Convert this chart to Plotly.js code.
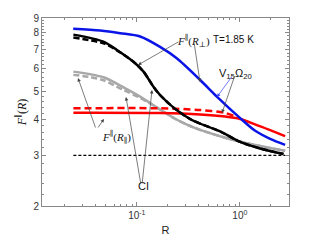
<!DOCTYPE html>
<html><head><meta charset="utf-8">
<script src="https://cdn.plot.ly/plotly-3.0.1.min.js"></script>
<style>html,body{margin:0;padding:0;background:#fff}#c{width:320px;height:240px}</style>
</head><body><div id="c"></div>
<script>
// Blue: F||(R_perp) V15Omega20
const blueR = [0.0241,0.0441,0.0689,0.1077,0.168,0.244,0.412,0.598,1.007,1.41,1.97,2.75];
const blueF = [8.26,8.14,7.97,7.76,7.14,6.52,5.48,4.80,4.04,3.65,3.42,3.26];
// Black solid: F||(R_perp) CI
const blackR = [0.0242,0.0474,0.064,0.0927,0.116,0.145,0.168,0.235,0.342,0.644,1.007,1.57,2.65];
const blackF = [7.88,7.45,6.97,6.34,5.86,5.19,4.86,4.35,3.98,3.63,3.34,3.17,3.03];
// Black dashed
const blackDR = [0.0242,0.0474,0.064,0.0927,0.116,0.145,0.168,0.235,0.342,0.644,1.007,1.57,2.65];
const blackDF = [7.70,7.35,6.95,6.34,5.86,5.19,4.86,4.35,3.98,3.63,3.34,3.17,3.03];
// Gray solid: F||(R_par) CI
const grayR = [0.0242,0.0474,0.0741,0.1077,0.168,0.235,0.355,0.748,1.57,2.75];
const grayF = [5.86,5.60,5.17,4.80,4.33,4.02,3.75,3.44,3.23,3.11];
// Gray dashed
const grayDR = [0.0242,0.0352,0.0474,0.0741,0.1077,0.168,0.235,0.355,0.748,1.57,2.75];
const grayDF = [5.71,5.61,5.47,5.06,4.75,4.33,4.02,3.75,3.44,3.23,3.11];
// Red solid: F||(R_par) V15Omega20
const redR = [0.0242,0.168,0.412,0.72,1.007,1.46,1.97,2.75];
const redF = [4.22,4.21,4.16,4.09,4.01,3.82,3.67,3.50];
// Red dashed
const redDR = [0.0242,0.168,0.412,0.72,1.007];
const redDF = [4.37,4.37,4.31,4.21,4.04];
// Horizontal reference
const refR = [0.0242,2.75];
const refF = [3,3];

const xMinor = [0.02,0.03,0.04,0.05,0.06,0.07,0.08,0.09,0.2,0.3,0.4,0.5,0.6,0.7,0.8,0.9,2];
const yMinor = [];
for (let v = 2.2; v < 9; v += 0.2) { if (Math.abs(v - Math.round(v)) > 0.01) yMinor.push(+v.toFixed(1)); }
const yTicks = [2,3,4,5,6,7,8,9];
const xTicks = [0.1,1];
const xTickText = ['10<sup>-1</sup>','10<sup>0</sup>'];

const sp = {shape:'spline',smoothing:0.8};
const traces = [
  {x:refR,y:refF,mode:'lines',line:{color:'#000',width:1.3,dash:'3px,2px'}},
  {x:grayR,y:grayF,mode:'lines',line:Object.assign({color:'#a8a8a8',width:2.5},sp)},
  {x:grayDR,y:grayDF,mode:'lines',line:Object.assign({color:'#a8a8a8',width:2.5,dash:'6px,3px'},sp)},
  {x:redR,y:redF,mode:'lines',line:Object.assign({color:'#ff0000',width:2.5},sp)},
  {x:redDR,y:redDF,mode:'lines',line:Object.assign({color:'#ff0000',width:2.5,dash:'7px,4px'},sp)},
  {x:blackR,y:blackF,mode:'lines',line:Object.assign({color:'#000',width:2.5},sp)},
  {x:blackDR,y:blackDF,mode:'lines',line:Object.assign({color:'#000',width:2.5,dash:'6px,3px'},sp)},
  {x:blueR,y:blueF,mode:'lines',line:Object.assign({color:'#0a14e6',width:2.5},sp)}
];

const L=42,T=18,W=247,H=188;
function px(x){return (x-L)/W;}
function py(y){return (206-y)/H;}
function arrow(tx,ty,hx,hy,col){
  return {xref:'paper',yref:'paper',x:px(hx),y:py(hy),ax:tx-hx,ay:ty-hy,text:'',showarrow:true,
    arrowhead:2,arrowsize:1,arrowwidth:0.7,arrowcolor:col||'#444',standoff:0,startstandoff:0};
}
const serif = {family:'Liberation Serif, DejaVu Serif, serif',size:11,color:'#111'};
const sans = {family:'Liberation Sans, Arial, sans-serif',size:10,color:'#111'};
const annotations = [
  {xref:'paper',yref:'paper',x:px(193),y:py(31),text:'<i>F</i><sup>∥</sup>(<i>R</i><sub>⊥</sub>)',showarrow:false,font:serif},
  {xref:'paper',yref:'paper',x:px(256),y:py(32),text:'T=1.85 K',showarrow:false,font:sans},
  {xref:'paper',yref:'paper',x:px(254),y:py(65),text:'V<sub>15</sub>Ω<sub>20</sub>',showarrow:false,font:{family:'Liberation Sans, Arial, sans-serif',size:11,color:'#111'}},
  {xref:'paper',yref:'paper',x:px(100),y:py(137),text:'<i>F</i><sup>∥</sup>(<i>R</i><sub>∥</sub>)',showarrow:false,font:serif},
  {xref:'paper',yref:'paper',x:px(143),y:py(194),text:'CI',showarrow:false,font:{family:'Liberation Sans, Arial, sans-serif',size:11,color:'#111'}},
  arrow(180,41,138,65),
  arrow(194,42,200,82),
  arrow(233,75,217,97,'#3344ff'),
  arrow(235,75,222,113),
  arrow(96,129,78,78),
  arrow(97,129,104,119),
  arrow(141,185,126,97),
  arrow(142,185,152,90)
];

const axisCommon = {showline:true,mirror:'ticks',linecolor:'#888',linewidth:1,ticks:'inside',ticklen:4,tickcolor:'#888',
  showgrid:false,zeroline:false,tickfont:{family:'Liberation Sans, Arial, sans-serif',size:10,color:'#333'}};
const layout = {
  width:320,height:240,margin:{l:L,r:320-L-W,t:T,b:240-T-H},
  paper_bgcolor:'#fff',plot_bgcolor:'#fff',showlegend:false,
  xaxis:Object.assign({},axisCommon,{type:'log',range:[Math.log10(0.012),Math.log10(3.0)],
    tickmode:'array',tickvals:xTicks,ticktext:xTickText,
    minor:{tickmode:'array',tickvals:xMinor,ticks:'inside',ticklen:2,tickcolor:'#888'},
    title:{text:'R',font:{family:'Liberation Sans, Arial, sans-serif',size:11,color:'#222'},standoff:6}}),
  yaxis:Object.assign({},axisCommon,{type:'log',range:[Math.log10(2),Math.log10(9)],
    tickmode:'array',tickvals:yTicks,ticktext:yTicks.map(String),
    minor:{tickmode:'array',tickvals:yMinor,ticks:'inside',ticklen:2,tickcolor:'#888'},
    title:{text:'<i>F</i><sup>∥</sup>(<i>R</i>)',font:{family:'Liberation Serif, DejaVu Serif, serif',size:12,color:'#111'},standoff:4}}),
  annotations:annotations
};
Plotly.newPlot('c',traces,layout,{staticPlot:true,displayModeBar:false});
</script></body></html>
